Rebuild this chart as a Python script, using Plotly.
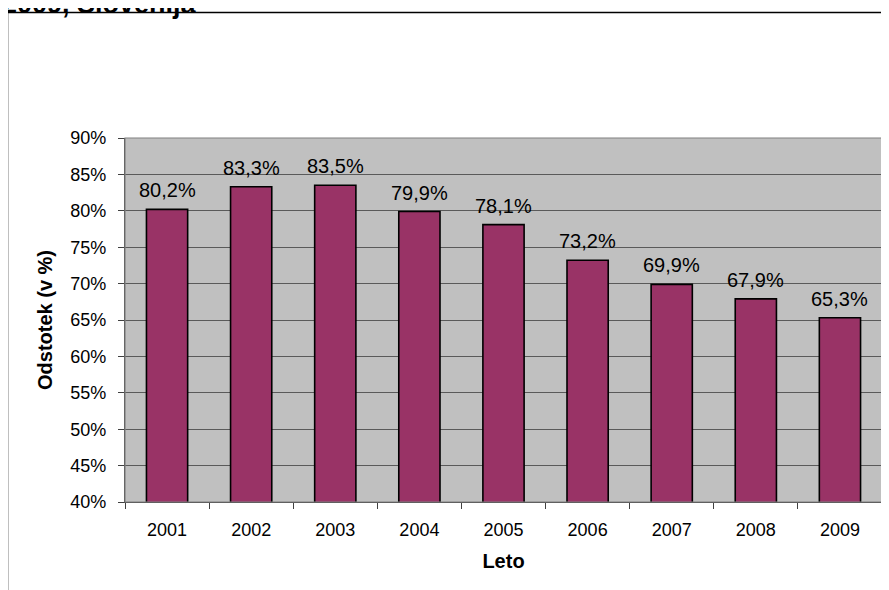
import plotly.graph_objects as go

years = ["2001", "2002", "2003", "2004", "2005", "2006", "2007", "2008", "2009"]
values = [80.2, 83.3, 83.5, 79.9, 78.1, 73.2, 69.9, 67.9, 65.3]
labels = ["80,2%", "83,3%", "83,5%", "79,9%", "78,1%", "73,2%", "69,9%", "67,9%", "65,3%"]

W, H = 889, 590
OFF = 8  # page body margin
# target plot-area edges in screen pixels
SL, ST, SR, SB = 125, 138, 882, 502
ML, MT = SL - OFF, ST - OFF
MR, MB = W - (SR - OFF), H - (SB - OFF)
PW, PH = W - ML - MR, H - MT - MB

def px_x(p):  # screen px -> paper
    return (p - SL) / PW

def px_y(p):
    return (SB - p) / PH

FONT = "Liberation Sans, Arial, sans-serif"

fig = go.Figure()
fig.add_trace(go.Bar(
    x=years, y=values,
    marker=dict(color="#993366", line=dict(color="#000000", width=1.6)),
    hoverinfo="skip",
))

for i, (v, t) in enumerate(zip(values, labels)):
    fig.add_annotation(x=i, y=v, xref="x", yref="y", text=t, showarrow=False,
                       yanchor="bottom", yshift=6,
                       font=dict(family=FONT, size=20, color="#000000"))

# cut-off title at the top
fig.add_annotation(x=px_x(199), y=px_y(20.5), xref="paper", yref="paper",
                   text="<b>2009, Slovenija</b>", showarrow=False,
                   xanchor="right", yanchor="bottom",
                   font=dict(family=FONT, size=27, color="#000000"))

# outer chart frame
fig.add_shape(type="rect", xref="paper", yref="paper",
              x0=px_x(7.5), x1=px_x(900), y0=px_y(620), y1=px_y(12.5),
              line=dict(color="#000000", width=1.5), fillcolor="rgba(0,0,0,0)",
              layer="below")
# plot area border (top/right)
fig.add_shape(type="rect", xref="paper", yref="paper", x0=0, x1=1, y0=0, y1=1,
              line=dict(color="#808080", width=1.2), fillcolor="rgba(0,0,0,0)")

fig.update_layout(
    width=W, height=H,
    margin=dict(l=ML, r=MR, t=MT, b=MB, pad=0),
    paper_bgcolor="#ffffff",
    plot_bgcolor="#c0c0c0",
    bargap=0.51,
    showlegend=False,
    font=dict(family=FONT, color="#000000"),
    xaxis=dict(
        type="category",
        range=[-0.5, len(years) - 0.5],
        automargin=False,
        tickson="boundaries",
        tickangle=0,
        ticks="outside", ticklen=6, tickcolor="#404040", tickwidth=1,
        showline=True, linecolor="#404040", linewidth=1.2,
        showgrid=False,
        tickfont=dict(family=FONT, size=18, color="#000000"),
        ticklabelstandoff=11,
        title=dict(text="<b>Leto</b>", font=dict(family=FONT, size=20, color="#000000"), standoff=15),
    ),
    yaxis=dict(
        range=[40, 90], dtick=5, tick0=40,
        automargin=False,
        ticksuffix="%",
        ticks="outside", ticklen=6, tickcolor="#404040", tickwidth=1,
        showline=True, linecolor="#404040", linewidth=1.2,
        showgrid=True, gridcolor="#5a5a5a", gridwidth=1,
        zeroline=False,
        tickfont=dict(family=FONT, size=18, color="#000000"),
        ticklabelstandoff=8,
        title=dict(text="<b>Odstotek (v %)</b>", font=dict(family=FONT, size=20, color="#000000"), standoff=12),
    ),
)

fig.write_html("out.html")
